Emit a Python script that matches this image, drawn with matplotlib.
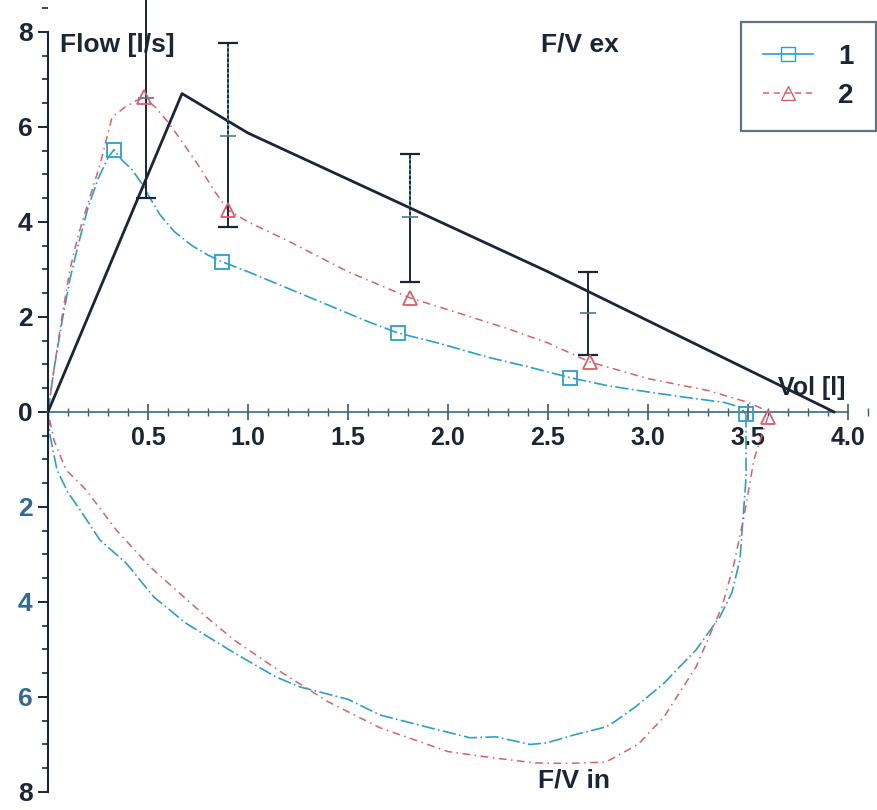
import numpy as np
import matplotlib.pyplot as plt
from matplotlib.lines import Line2D
from matplotlib.ticker import MultipleLocator, FuncFormatter

plt.rcParams['font.family'] = ['Liberation Sans', 'DejaVu Sans']

# measured flow/volume loops, subject 1 (blue) and 2 (red)
blue_ex_x = [0, 0.03, 0.07, 0.11, 0.15, 0.2, 0.25, 0.3, 0.33, 0.37, 0.42, 0.47, 0.51, 0.56,
             0.63, 0.72, 0.8, 0.87, 1.0, 1.2, 1.4, 1.6, 1.75, 1.95, 2.2, 2.4, 2.61, 2.8,
             3.0, 3.2, 3.38, 3.46, 3.49]
blue_ex_y = [0, 0.9, 1.9, 2.8, 3.5, 4.3, 4.9, 5.35, 5.52, 5.3, 5.1, 4.8, 4.5, 4.15,
             3.8, 3.5, 3.3, 3.16, 2.95, 2.6, 2.25, 1.9, 1.66, 1.45, 1.15, 0.95, 0.72, 0.55,
             0.42, 0.3, 0.2, 0.1, -0.05]
blue_in_x = [3.49, 3.49, 3.46, 3.42, 3.36, 3.24, 3.08, 2.94, 2.83, 2.79, 2.63, 2.49, 2.41,
             2.24, 2.11, 1.91, 1.66, 1.5, 1.26, 1.14, 0.93, 0.69, 0.53, 0.39, 0.26, 0.16,
             0.1, 0.045, 0.01, 0]
blue_in_y = [-0.05, -1.4, -3.1, -3.8, -4.31, -5.01, -5.71, -6.2, -6.53, -6.63, -6.8, -6.97,
             -7.0, -6.84, -6.86, -6.65, -6.38, -6.05, -5.79, -5.58, -5.07, -4.45, -3.9,
             -3.18, -2.7, -2.06, -1.7, -1.22, -0.5, 0]
blue_mark_x = [0.33, 0.87, 1.75, 2.61, 3.49]
blue_mark_y = [5.52, 3.16, 1.66, 0.72, -0.05]

red_ex_x = [0, 0.03, 0.07, 0.11, 0.15, 0.2, 0.26, 0.32, 0.38, 0.44, 0.48, 0.54, 0.6, 0.66,
            0.75, 0.84, 0.9, 1.0, 1.2, 1.5, 1.81, 2.0, 2.3, 2.5, 2.71, 3.0, 3.3, 3.5,
            3.58, 3.6]
red_ex_y = [0, 0.9, 2.0, 3.0, 3.7, 4.4, 5.2, 6.2, 6.4, 6.55, 6.62, 6.4, 6.1, 5.75,
            5.2, 4.6, 4.25, 4.0, 3.6, 2.95, 2.4, 2.15, 1.75, 1.45, 1.05, 0.7, 0.45, 0.2,
            0.05, -0.1]
red_in_x = [3.6, 3.53, 3.48, 3.43, 3.37, 3.24, 3.08, 2.95, 2.79, 2.6, 2.44, 2.24, 2.0,
            1.66, 1.4, 1.17, 0.93, 0.79, 0.64, 0.51, 0.34, 0.19, 0.09, 0.03, 0]
red_in_y = [-0.1, -1.0, -2.2, -3.2, -4.1, -5.37, -6.42, -7.0, -7.37, -7.4, -7.39, -7.29,
            -7.15, -6.65, -6.1, -5.49, -4.8, -4.31, -3.75, -3.26, -2.48, -1.64, -1.22,
            -0.6, 0]
red_mark_x = [0.48, 0.9, 1.81, 2.71, 3.6]
red_mark_y = [6.62, 4.25, 2.4, 1.05, -0.1]

# predicted expiratory curve and its spread
pred_x = [0, 0.67, 1.0, 2.5, 3.93]
pred_y = [0, 6.7, 5.87, 2.95, 0]
err_x = [0.49, 0.90, 1.81, 2.70]
err_mid = [6.6, 5.8, 4.1, 2.08]
err_lo = [4.5, 3.9, 2.74, 1.2]
err_hi = [8.9, 7.77, 5.43, 2.95]

blue = '#2aa0cc'
red = '#d9606a'
dark = '#1c2536'

fig = plt.figure(figsize=(8.78, 8.10), dpi=100)
ax = fig.add_axes([48 / 878, 0, 830 / 878, 1])
ax.set_xlim(0, 4.15)
ax.set_ylim(-8.38, 8.67)

ax.plot(pred_x, pred_y, color=dark, lw=2.0, zorder=3)
lo = np.array(err_mid) - np.array(err_lo)
hi = np.array(err_hi) - np.array(err_mid)
ax.errorbar(err_x, err_mid, yerr=[lo, hi], fmt='none', ecolor=dark, elinewidth=1.4,
            capsize=7, capthick=1.6, zorder=4)
for i in [1, 2]:
    ax.plot([err_x[i], err_x[i]], [err_mid[i], err_hi[i] - 0.05], color=blue, lw=1.4,
            ls=':', zorder=5)
ax.plot(err_x, err_mid, ls='none', marker='_', ms=12, mew=1.2, color='#4a7a90', zorder=5)

ax.plot(blue_ex_x, blue_ex_y, color=blue, lw=1.2, ls=(0, (8, 2, 1, 2)), zorder=2)
ax.plot(blue_in_x, blue_in_y, color=blue, lw=1.2, ls=(0, (8, 2, 1, 2)), zorder=2)
ax.plot(red_ex_x, red_ex_y, color=red, lw=1.1, ls=(0, (5, 3, 1, 3)), zorder=2)
ax.plot(red_in_x, red_in_y, color=red, lw=1.1, ls=(0, (5, 3, 1, 3)), zorder=2)
ax.plot(blue_mark_x, blue_mark_y, ls='none', marker='s', ms=10, mfc='none', mec=blue,
        mew=1.3, zorder=6)
ax.plot(red_mark_x, red_mark_y, ls='none', marker='^', ms=10, mfc='none', mec=red,
        mew=1.3, zorder=6)

for s in ['top', 'right']:
    ax.spines[s].set_visible(False)
ax.spines['left'].set_bounds(-8, 8)
ax.spines['left'].set_color(dark)
ax.spines['left'].set_linewidth(1.5)
ax.spines['bottom'].set_position(('data', 0))
ax.spines['bottom'].set_bounds(0, 4.0)
ax.spines['bottom'].set_color('#3a6a8a')
ax.spines['bottom'].set_linewidth(1.2)

ax.yaxis.set_major_locator(MultipleLocator(2))
ax.yaxis.set_minor_locator(MultipleLocator(0.5))
ax.yaxis.set_major_formatter(FuncFormatter(lambda v, p: '%d' % abs(round(v))))
ax.set_xticks([0.5, 1.0, 1.5, 2.0, 2.5, 3.0, 3.5, 4.0])
ax.set_xticklabels(['0.5', '1.0', '1.5', '2.0', '2.5', '3.0', '3.5', '4.0'])
ax.xaxis.set_minor_locator(MultipleLocator(0.1))
ax.tick_params(axis='y', which='major', length=7, width=1.4, color=dark, labelsize=19, pad=4)
ax.tick_params(axis='y', which='minor', length=4, width=1.2, color=dark)
ax.tick_params(axis='x', which='major', direction='inout', length=12, width=1.2,
               color='#3a5a70', labelsize=18, pad=4)
ax.tick_params(axis='x', which='minor', direction='inout', length=6, width=1.0,
               color='#3a5a70')
for lab in ax.get_yticklabels():
    lab.set_fontweight('bold')
    lab.set_color(dark)
for t, lab in zip(ax.get_yticks(), ax.get_yticklabels()):
    if -7 < t < 0:
        lab.set_color('#2f6a95')
for lab in ax.get_xticklabels():
    lab.set_fontweight('bold')
    lab.set_color(dark)

ax.text(0.06, 7.73, 'Flow [l/s]', fontsize=19, fontweight='bold', color=dark,
        ha='left', va='center')
ax.text(2.66, 7.73, 'F/V ex', fontsize=19, fontweight='bold', color=dark,
        ha='center', va='center')
ax.text(3.82, 0.5, 'Vol [l]', fontsize=18, fontweight='bold', color=dark,
        ha='center', va='center')
ax.text(2.63, -7.75, 'F/V in', fontsize=19, fontweight='bold', color=dark,
        ha='center', va='center')

handles = [Line2D([], [], color=blue, lw=1.2, marker='s', ms=10, mfc='none', mec=blue),
           Line2D([], [], color=red, lw=1.1, ls=(0, (4, 3)), marker='^', ms=10,
                  mfc='none', mec=red)]
leg = ax.legend(handles, ['1', '2'], loc='upper right', bbox_to_anchor=(0.9976, 0.973),
                borderaxespad=0, fontsize=20, frameon=True, fancybox=False,
                handlelength=1.8, borderpad=0.8, labelspacing=0.45, handletextpad=0.9)
leg.get_frame().set_edgecolor('#3a5060')
leg.get_frame().set_linewidth(1.6)
for t in leg.get_texts():
    t.set_fontweight('bold')
    t.set_color(dark)

fig.savefig('out.png', dpi=100)
